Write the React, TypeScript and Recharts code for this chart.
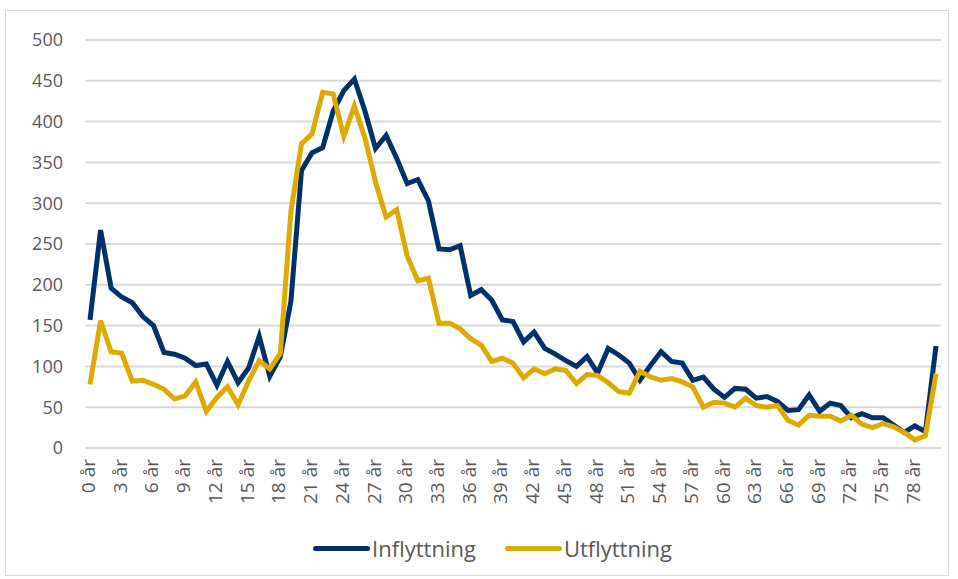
import React from "react";
import { LineChart, Line, XAxis, YAxis, CartesianGrid, Legend } from "recharts";

// Ålder 0..80 år
const ages: number[] = [
  0, 1, 2, 3, 4, 5, 6, 7, 8, 9, 10, 11, 12, 13, 14, 15, 16, 17, 18, 19, 20,
  21, 22, 23, 24, 25, 26, 27, 28, 29, 30, 31, 32, 33, 34, 35, 36, 37, 38, 39,
  40, 41, 42, 43, 44, 45, 46, 47, 48, 49, 50, 51, 52, 53, 54, 55, 56, 57, 58,
  59, 60, 61, 62, 63, 64, 65, 66, 67, 68, 69, 70, 71, 72, 73, 74, 75, 76, 77,
  78, 79, 80,
];

const inflyttning: number[] = [
  157, 267, 196, 185, 178, 161, 150, 117, 115, 110, 101, 103, 77, 106, 80, 98,
  137, 88, 112, 180, 340, 362, 368, 413, 438, 452, 413, 367, 383, 355, 324, 329,
  303, 244, 243, 248, 187, 194, 181, 157, 155, 130, 142, 122, 115, 107, 100, 112,
  92, 122, 114, 104, 83, 101, 118, 106, 104, 83, 87, 72, 62, 73, 72, 61, 63, 57,
  46, 47, 65, 45, 55, 52, 37, 42, 37, 37, 28, 19, 27, 20, 125,
];

const utflyttning: number[] = [
  78, 156, 118, 116, 82, 83, 78, 72, 60, 64, 81, 45, 62, 75, 53, 82, 107, 97,
  116, 290, 373, 385, 436, 434, 382, 419, 380, 326, 283, 292, 235, 205, 208, 153,
  153, 146, 134, 126, 106, 110, 104, 86, 97, 91, 97, 95, 79, 90, 89, 80, 69, 67,
  94, 87, 83, 85, 81, 75, 50, 56, 55, 50, 61, 52, 50, 52, 34, 28, 40, 39, 39, 33,
  40, 29, 25, 30, 26, 19, 10, 15, 91,
];

const yTicks: number[] = [0, 50, 100, 150, 200, 250, 300, 350, 400, 450, 500];

const BLUE = "#003169";
const GOLD = "#dcaa00";
const TEXT = "#595959";
const FONT = "'Open Sans', 'Noto Sans', sans-serif";

const data = ages.map((a, i) => ({
  name: `${a} år`,
  Inflyttning: inflyttning[i],
  Utflyttning: utflyttning[i],
}));

// rotated x labels
const AgeTick = (props: any) => {
  const { x, y, payload } = props;
  return (
    <text
      transform={`translate(${x + 5},${y}) rotate(-90)`}
      textAnchor="end"
      fill={TEXT}
      fontSize={19}
      fontFamily={FONT}
    >
      {payload.value}
    </text>
  );
};

const LegendContent = () => {
  const items = [
    { label: "Inflyttning", color: BLUE },
    { label: "Utflyttning", color: GOLD },
  ];
  return (
    <div style={{ display: "flex", justifyContent: "center", gap: 29, paddingLeft: 44 }}>
      {items.map((it) => (
        <div key={it.label} style={{ display: "flex", alignItems: "center" }}>
          <span
            style={{
              display: "inline-block",
              width: 57,
              height: 5,
              borderRadius: 3,
              background: it.color,
            }}
          />
          <span style={{ color: TEXT, fontSize: 22, fontFamily: FONT, marginLeft: 2 }}>
            {it.label}
          </span>
        </div>
      ))}
    </div>
  );
};

export default function App() {
  return (
    <div style={{ position: "absolute", left: 0, top: 0, width: 958, height: 579, background: "#fff" }}>
      <div
        style={{
          position: "absolute",
          left: 5,
          top: 10,
          width: 944,
          height: 566,
          border: "1px solid #d9d9d9",
          boxSizing: "border-box",
        }}
      />
      <div style={{ position: "absolute", left: 0, top: 0 }}>
        <LineChart
          width={958}
          height={579}
          data={data}
          margin={{ top: 40, right: 17, bottom: 16, left: 0 }}
        >
          <CartesianGrid vertical={false} stroke="#d9d9d9" strokeWidth={2} />
          <XAxis
            dataKey="name"
            interval={2}
            height={85}
            axisLine={false}
            tickLine={false}
            tickSize={0}
            tickMargin={11}
            padding={{ left: 5, right: 5 }}
            tick={<AgeTick />}
          />
          <YAxis
            domain={[0, 500]}
            ticks={yTicks}
            width={85}
            axisLine={false}
            tickLine={false}
            tickSize={0}
            tickMargin={22}
            tick={{ fill: TEXT, fontSize: 18, fontFamily: FONT }}
          />
          <Legend verticalAlign="bottom" content={<LegendContent />} />
          <Line
            type="linear"
            dataKey="Inflyttning"
            stroke={BLUE}
            strokeWidth={5}
            dot={false}
            isAnimationActive={false}
          />
          <Line
            type="linear"
            dataKey="Utflyttning"
            stroke={GOLD}
            strokeWidth={5}
            dot={false}
            isAnimationActive={false}
          />
        </LineChart>
      </div>
    </div>
  );
}
